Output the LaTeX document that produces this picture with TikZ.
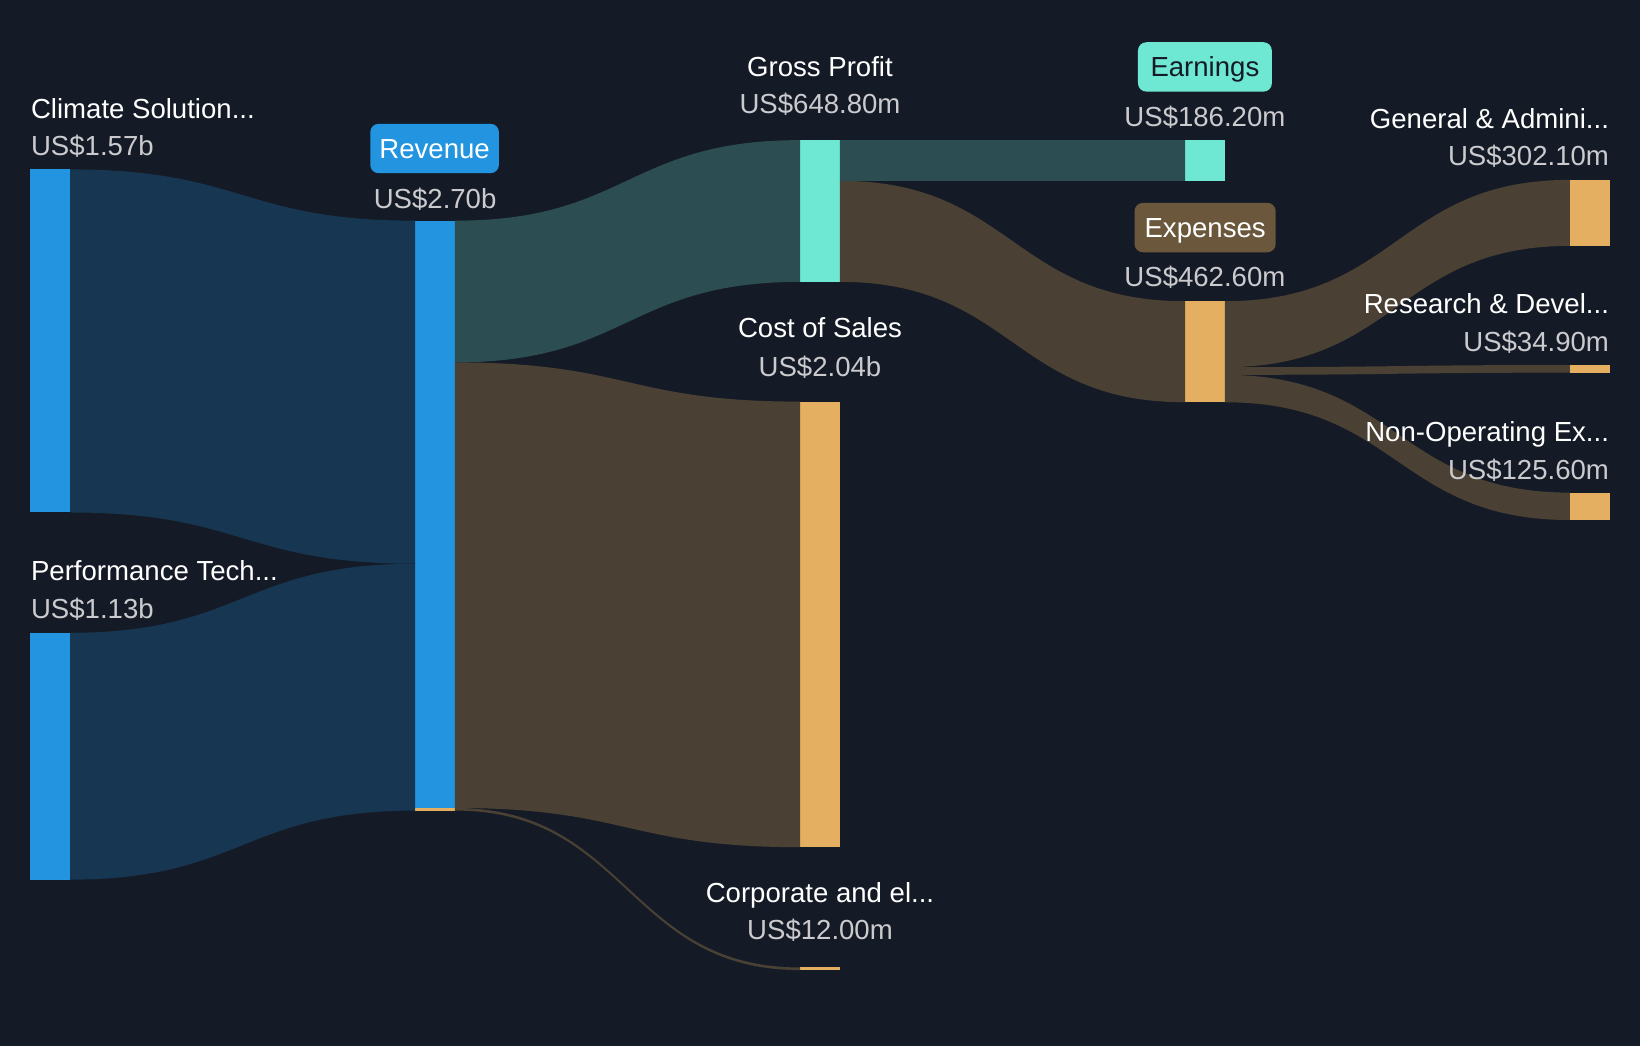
\documentclass[tikz,border=0pt]{standalone}
\usepackage{fontspec}
\setmainfont{Liberation Sans}
\usetikzlibrary{calc}

\definecolor{bg}{HTML}{151B26}
\definecolor{revblue}{HTML}{2394DF}
\definecolor{revlink}{HTML}{173651}
\definecolor{profit}{HTML}{6FE8D3}
\definecolor{profitlink}{HTML}{2C4E52}
\definecolor{cost}{HTML}{E4AF61}
\definecolor{costlink}{HTML}{4A4034}
\definecolor{expbox}{HTML}{6B573B}
\definecolor{valgrey}{HTML}{CBCBCF}

\tikzset{
  bar/.style={anchor=north west, inner sep=0pt, outer sep=0pt, minimum width=0.38cm},
  nametxt/.style={text=white, inner sep=0pt, anchor=base, font=\fontsize{7.5}{9}\selectfont},
  valtxt/.style={text=valgrey, inner sep=0pt, anchor=base, font=\fontsize{7.5}{9}\selectfont},
  tag/.style={rounded corners=0.08cm, inner sep=0pt, minimum height=0.472cm,
    text height=5.4pt, text depth=0pt, font=\fontsize{7.5}{9}\selectfont}
}

% band from #1 (offset #2) to #3 (offset #4), thickness #5
\newcommand{\flow}[6]{%
  \fill[#6] ([yshift=-#2cm]#1.north east) .. controls +(1.65,0) and +(-1.65,0) .. ([yshift=-#4cm]#3.north west)
    -- ([yshift=-#4cm-#5cm]#3.north west) .. controls +(-1.65,0) and +(1.65,0) .. ([yshift=-#2cm-#5cm]#1.north east) -- cycle;}

\begin{document}
\begin{tikzpicture}
\fill[bg] (0,0) rectangle (15.68,-10);
\useasboundingbox (0,0) rectangle (15.68,-10);

% bars
\node[bar, fill=revblue, minimum height=3.28cm] (clim) at (0.29,-1.62) {};
\node[bar, fill=revblue, minimum height=2.36cm] (perf) at (0.29,-6.05) {};
\node[bar, fill=revblue, minimum height=5.64cm] (rev) at (3.97,-2.11) {};
\node[bar, fill=profit, minimum height=1.355cm] (gp) at (7.65,-1.34) {};
\node[bar, fill=cost, minimum height=4.26cm] (cos) at (7.65,-3.84) {};
\node[bar, fill=cost, minimum height=0.025cm] (corp) at (7.65,-9.25) {};
\node[bar, fill=profit, minimum height=0.389cm] (earn) at (11.33,-1.34) {};
\node[bar, fill=cost, minimum height=0.966cm] (exp) at (11.33,-2.88) {};
\node[bar, fill=cost, minimum height=0.631cm] (ga) at (15.01,-1.72) {};
\node[bar, fill=cost, minimum height=0.073cm] (rd) at (15.01,-3.49) {};
\node[bar, fill=cost, minimum height=0.262cm] (nonop) at (15.01,-4.71) {};
\fill[cost] ([yshift=0.025cm]rev.south west) rectangle (rev.south east);

% links
\flow{clim}{0}{rev}{0}{3.28}{revlink}
\flow{perf}{0}{rev}{3.28}{2.36}{revlink}
\flow{rev}{0}{gp}{0}{1.355}{profitlink}
\flow{rev}{1.355}{cos}{0}{4.26}{costlink}
\flow{rev}{5.615}{corp}{0}{0.025}{costlink}
\flow{gp}{0}{earn}{0}{0.389}{profitlink}
\flow{gp}{0.389}{exp}{0}{0.966}{costlink}
\flow{exp}{0}{ga}{0}{0.631}{costlink}
\flow{exp}{0.631}{rd}{0}{0.073}{costlink}
\flow{exp}{0.704}{nonop}{0}{0.262}{costlink}

% labels
\node[nametxt, anchor=base west] (climname) at (0.29,-1.13) {Climate Solution...};
\node[valtxt, anchor=base west] (climval) at (0.29,-1.49) {US\$1.57b};
\node[nametxt, anchor=base west] (perfname) at (0.29,-5.55) {Performance Tech...};
\node[valtxt, anchor=base west] (perfval) at (0.29,-5.915) {US\$1.13b};
\node[tag, fill=revblue, text=white, minimum width=1.23cm] (revtag) at (4.155,-1.42) {Revenue};
\node[valtxt] (revval) at (4.16,-1.99) {US\$2.70b};
\node[nametxt] (gpname) at (7.84,-0.727) {Gross Profit};
\node[valtxt] (gpval) at (7.84,-1.083) {US\$648.80m};
\node[nametxt] (cosname) at (7.84,-3.23) {Cost of Sales};
\node[valtxt] (cosval) at (7.84,-3.595) {US\$2.04b};
\node[nametxt] (corpname) at (7.84,-8.63) {Corporate and el...};
\node[valtxt] (corpval) at (7.84,-8.987) {US\$12.00m};
\node[tag, fill=profit, text=bg, minimum width=1.28cm] (earntag) at (11.52,-0.64) {Earnings};
\node[valtxt] (earnval) at (11.52,-1.205) {US\$186.20m};
\node[tag, fill=expbox, text=white, minimum width=1.35cm] (exptag) at (11.522,-2.176) {Expenses};
\node[valtxt] (expval) at (11.52,-2.74) {US\$462.60m};
\node[nametxt, anchor=base east] (ganame) at (15.39,-1.227) {General \& Admini...};
\node[valtxt, anchor=base east] (gaval) at (15.39,-1.587) {US\$302.10m};
\node[nametxt, anchor=base east] (rdname) at (15.39,-3.002) {Research \& Devel...};
\node[valtxt, anchor=base east] (rdval) at (15.39,-3.362) {US\$34.90m};
\node[nametxt, anchor=base east] (nonopname) at (15.39,-4.222) {Non-Operating Ex...};
\node[valtxt, anchor=base east] (nonopval) at (15.39,-4.582) {US\$125.60m};
\end{tikzpicture}
\end{document}
